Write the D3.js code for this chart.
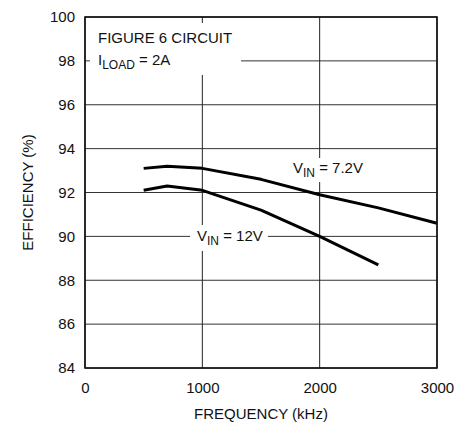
<!DOCTYPE html>
<html>
<head>
<meta charset="utf-8">
<script src="https://cdn.jsdelivr.net/npm/d3@7"></script>
<style>
  body { margin: 0; background: #fff; }
  svg text { font-family: "Liberation Sans", Arial, sans-serif; fill: #111; }
</style>
</head>
<body>
<div id="main"></div>
<script>
// dados
const freqKHz = [500, 700, 1000, 1500, 2000, 2500, 3000];
const effVin72 = [93.1, 93.2, 93.1, 92.6, 91.9, 91.3, 90.6];
const freqKHz12 = [500, 700, 1000, 1500, 2000, 2500];
const effVin12 = [92.1, 92.3, 92.1, 91.2, 90.0, 88.7];
const xTicks = [0, 1000, 2000, 3000];
const yTicks = [84, 86, 88, 90, 92, 94, 96, 98, 100];

const width = 472, height = 423;
const margin = {left: 85, right: 35, top: 17, bottom: 55};

const svg = d3.select('#main').append('svg')
    .attr('width', width)
    .attr('height', height);

const xScale = d3.scaleLinear().domain([0, 3000]).range([margin.left, width - margin.right]);
const yScale = d3.scaleLinear().domain([84, 100]).range([height - margin.bottom, margin.top]);

// grade
svg.append('g')
    .selectAll('line')
    .data(yTicks)
    .enter().append('line')
    .attr('x1', xScale(0)).attr('x2', xScale(3000))
    .attr('y1', d => yScale(d)).attr('y2', d => yScale(d))
    .attr('stroke', '#333').attr('stroke-width', 1);

svg.append('g')
    .selectAll('line')
    .data(xTicks)
    .enter().append('line')
    .attr('x1', d => xScale(d)).attr('x2', d => xScale(d))
    .attr('y1', yScale(84)).attr('y2', yScale(100))
    .attr('stroke', '#222').attr('stroke-width', 1);

// rótulos dos eixos (ticks)
const xAxis = d3.axisBottom(xScale).tickValues(xTicks).tickFormat(d3.format('d'))
    .tickSize(0).tickPadding(14);
const gx = svg.append('g')
    .attr('transform', `translate(0,${yScale(84)})`)
    .call(xAxis);
gx.select('.domain').remove();
gx.selectAll('text').attr('font-size', 15).attr('fill', '#111')
    .attr('font-family', '"Liberation Sans", Arial, sans-serif');

const yAxis = d3.axisLeft(yScale).tickValues(yTicks).tickSize(0).tickPadding(10);
const gy = svg.append('g')
    .attr('transform', `translate(${xScale(0)},0)`)
    .call(yAxis);
gy.select('.domain').remove();
gy.selectAll('text').attr('font-size', 15).attr('fill', '#111')
    .attr('font-family', '"Liberation Sans", Arial, sans-serif');

// anotações com fundo branco que corta a grade
function label(x, y, main, sub, rest, pad) {
    const g = svg.append('g');
    const bg = g.append('rect').attr('fill', '#fff');
    const t = g.append('text')
        .attr('x', x).attr('y', y)
        .attr('font-size', 15);
    t.append('tspan').text(main);
    t.append('tspan').attr('font-size', 12).attr('dy', 4).text(sub);
    t.append('tspan').attr('dy', -4).text(rest);
    const b = t.node().getBBox();
    bg.attr('x', b.x - pad[0]).attr('y', b.y - pad[1])
      .attr('width', b.width + pad[0] + pad[2])
      .attr('height', b.height + pad[1] + pad[3]);
    return g;
}

svg.append('rect').attr('fill', '#fff')
    .attr('x', xScale(0) + 5).attr('y', yScale(100) + 6)
    .attr('width', 151).attr('height', 52);
svg.append('text').attr('x', 98).attr('y', 43).attr('font-size', 15).text('FIGURE 6 CIRCUIT');
const il = svg.append('text').attr('x', 98).attr('y', 65).attr('font-size', 15);
il.append('tspan').text('I');
il.append('tspan').attr('font-size', 12).attr('dy', 4).text('LOAD');
il.append('tspan').attr('dy', -4).text(' = 2A');

label(293, 173, 'V', 'IN', ' = 7.2V', [2, 1, 2, 2]);
label(197, 241, 'V', 'IN', ' = 12V', [7, 2, 5, 3]);

// curvas
const line = d3.line()
    .x(d => xScale(d[0]))
    .y(d => yScale(d[1]));

svg.append('path')
    .datum(freqKHz.map((f, i) => [f, effVin72[i]]))
    .attr('fill', 'none').attr('stroke', '#000').attr('stroke-width', 3)
    .attr('stroke-linejoin', 'round')
    .attr('d', line);

svg.append('path')
    .datum(freqKHz12.map((f, i) => [f, effVin12[i]]))
    .attr('fill', 'none').attr('stroke', '#000').attr('stroke-width', 3)
    .attr('stroke-linejoin', 'round')
    .attr('d', line);

// moldura
svg.append('rect')
    .attr('x', xScale(0)).attr('y', yScale(100))
    .attr('width', xScale(3000) - xScale(0))
    .attr('height', yScale(84) - yScale(100))
    .attr('fill', 'none').attr('stroke', '#111').attr('stroke-width', 1.6);

// títulos dos eixos
svg.append('text')
    .attr('x', xScale(1500)).attr('y', 419)
    .attr('text-anchor', 'middle').attr('font-size', 15)
    .text('FREQUENCY (kHz)');

svg.append('text')
    .attr('transform', `translate(33,${(yScale(84) + yScale(100)) / 2}) rotate(-90)`)
    .attr('text-anchor', 'middle').attr('font-size', 15)
    .text('EFFICIENCY (%)');
</script>
</body>
</html>
